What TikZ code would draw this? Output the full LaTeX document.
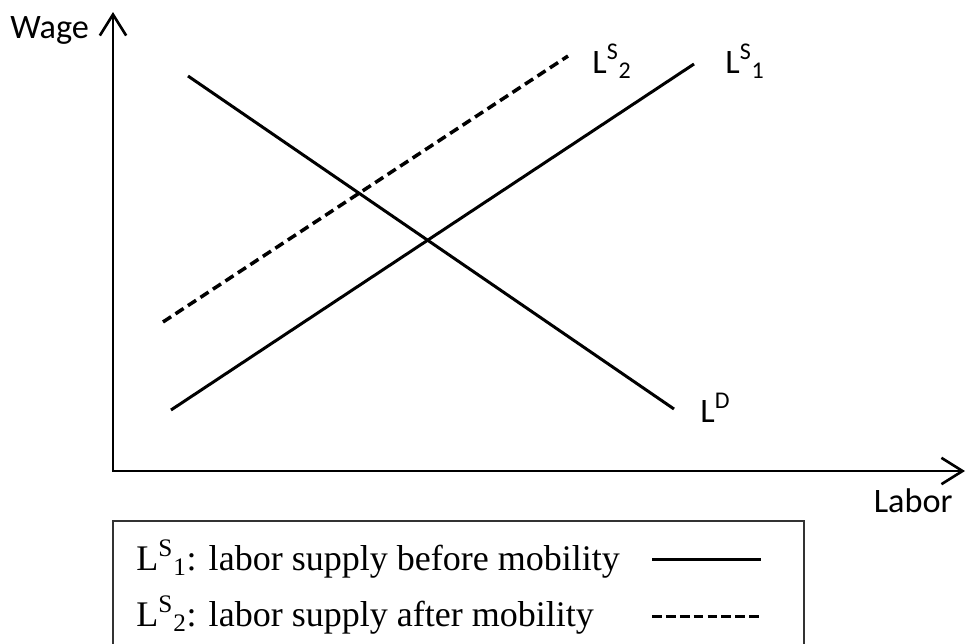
\documentclass[tikz,border=0pt]{standalone}
\usepackage{fontspec}
\setmainfont{Liberation Serif}
\newfontfamily\calfont{Carlito}
\usetikzlibrary{arrows.meta,positioning}
\tikzset{
  axis/.style={
    line width = 1.5pt,
    {Straight Barb[length=12pt,width=15pt,line width=1.5pt]}-{Straight Barb[length=12pt,width=15pt,line width=1.5pt]}
  },
  curve/.style={
    line width = 1.7pt
  },
  shifted/.style={
    line width = 2pt,
    dash pattern = on 5.5pt off 3pt
  },
  clbl/.style={
    font = \calfont\fontsize{19.5}{23}\selectfont,
    inner sep = 0pt,
    anchor = base west
  },
  keytext/.style={
    font = \fontsize{20.5}{24}\selectfont,
    inner sep = 0pt,
    anchor = base west
  },
  keybox/.style={
    line width = 1pt,
    draw = black!80
  }
}

\begin{document}
\begin{tikzpicture}[x=0.02cm,y=-0.02cm]
\useasboundingbox (0,0) rectangle (967,643);
\coordinate (o) at (113,471);
\coordinate (ytop) at (113,12);
\coordinate (xend) at (965,471);
\draw[axis] (ytop) -- (o) -- (xend);
\node[clbl] (wage) at (10,38) {Wage};
\node[clbl,anchor=base east] (labor) at (953,512) {Labor};
\coordinate (d1) at (188,76);
\coordinate (d2) at (674,409);
\coordinate (s1a) at (171,410);
\coordinate (s1b) at (694,64);
\coordinate (s2a) at (163,322);
\coordinate (s2b) at (568,56);
\draw[curve] (d1) -- (d2);
\draw[curve] (s1a) -- (s1b);
\draw[shifted] (s2a) -- (s2b);
\node[clbl] (ls2) at (592,73) {L\textsuperscript{S}\textsubscript{2}};
\node[clbl] (ls1) at (725,73) {L\textsuperscript{S}\textsubscript{1}};
\node[clbl] (ld) at (700,422) {L\textsuperscript{D}};
% legend
\draw[keybox] (113,660) |- (804,521) -- (804,660);
\node[keytext] (key1) at (136,570) {L\textsuperscript{S}\textsubscript{1}: labor supply before mobility};
\node[keytext] (key2) at (136,626) {L\textsuperscript{S}\textsubscript{2}: labor supply after mobility};
\coordinate (k1a) at (652,559);
\coordinate (k1b) at (761,559);
\coordinate (k2a) at (652,616);
\coordinate (k2b) at (761,616);
\draw[curve] (k1a) -- (k1b);
\draw[curve,dash pattern=on 5.6pt off 2.3pt] (k2a) -- (k2b);
\end{tikzpicture}
\end{document}
